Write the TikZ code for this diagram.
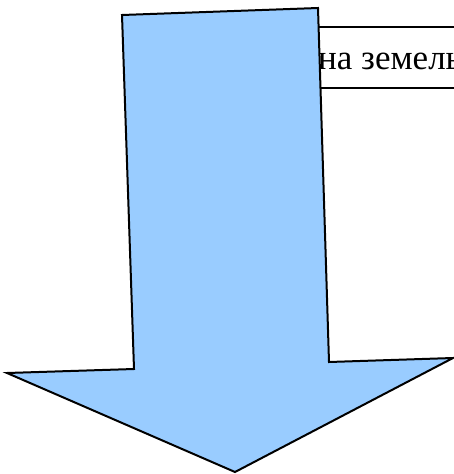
\documentclass[tikz,border=0pt]{standalone}
\usepackage{fontspec}
\setmainfont{Liberation Serif}
\definecolor{arrowblue}{HTML}{99CCFF}
\tikzset{
  box/.style={draw=black, line width=2pt, fill=white},
  bigarrow/.style={draw=black, line width=2pt, fill=arrowblue, line join=miter},
  lbl/.style={inner sep=0pt, anchor=base west, font=\fontsize{35}{42}\selectfont}
}
\begin{document}
\begin{tikzpicture}[x=1pt,y=-1pt]
\useasboundingbox (0,0) rectangle (454,474);
\clip (0,0) rectangle (454,474);
\draw[box] (200,27) rectangle (480,88);
\node[lbl] (t) at (318,69) {на земельных};
\coordinate (a1) at (122,15);
\coordinate (a2) at (318,8);
\coordinate (a3) at (329,362);
\coordinate (a4) at (453,358);
\coordinate (a5) at (235,472);
\coordinate (a6) at (7,373);
\coordinate (a7) at (134,369);
\draw[bigarrow] (a1) -- (a2) -- (a3) -- (a4) -- (a5) -- (a6) -- (a7) -- cycle;
\end{tikzpicture}
\end{document}
